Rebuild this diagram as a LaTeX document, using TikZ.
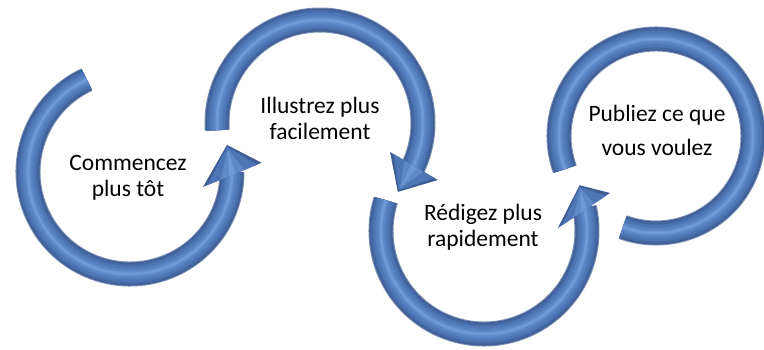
\documentclass[tikz,border=0pt]{standalone}
\usepackage{fontspec}
\setmainfont{Carlito}
\usetikzlibrary{calc}
\definecolor{bedge}{RGB}{62,94,148}
\definecolor{bmid}{RGB}{78,118,182}
\definecolor{blight}{RGB}{94,136,200}
\definecolor{bhi}{RGB}{110,152,214}
\newcommand\tubearc[4]{%
  \foreach \w/\c in {25/bedge!70!white,23/bedge,20/bedge!50!bmid,16/bmid,11/bmid!50!blight,7/blight,3/bhi}{%
    \draw[line width=\w pt, draw=\c] (#1) ++(#3:#2) arc[start angle=#3, end angle=#4, radius=#2];
  }%
}
\newcommand\tubehead[4]{% center, wing1, wing2, tip (polar, relative to center)
  \begin{scope}[shift={(#1)}]
    \coordinate (hw1) at (#2);
    \coordinate (hw2) at (#3);
    \coordinate (ht) at (#4);
    \fill[bedge] (hw1) -- (hw2) -- (ht) -- cycle;
    \fill[bmid] ($(hw1)!0.08!(hw2)$) -- ($(hw1)!0.92!(hw2)$) -- ($(ht)!0.06!($(hw1)!0.5!(hw2)$)$) -- cycle;
    \fill[blight] ($(hw1)!0.3!(hw2)$) -- ($(hw1)!0.7!(hw2)$) -- ($(ht)!0.12!($(hw1)!0.5!(hw2)$)$) -- cycle;
    \fill[bhi] ($(hw1)!0.44!(hw2)$) -- ($(hw1)!0.56!(hw2)$) -- ($(ht)!0.2!($(hw1)!0.5!(hw2)$)$) -- cycle;
  \end{scope}%
}
\begin{document}
\begin{tikzpicture}[x=1pt,y=1pt,
  label/.style={align=center, text=black, font=\fontsize{23.5}{26}\selectfont, inner sep=0pt}]
\useasboundingbox (0,0) rectangle (764,349);
\fill[white] (0,0) rectangle (764,349);
\coordinate (c1) at (130,177);
\coordinate (c2) at (320,226);
\coordinate (c3) at (484,118);
\coordinate (c4) at (656,213);
% shafts
\tubearc{c1}{102}{115}{360}
\tubearc{c2}{103}{184}{-26}
\tubearc{c3}{103}{162.6}{373}
\tubearc{c4}{97}{200}{-110}
% heads
\tubehead{c1}{348.4:74.5}{364:132}{375.6:100.7}
\tubehead{c2}{-22.5:75.8}{-25.8:131}{-41.5:104}
\tubehead{c3}{362.3:74}{376.8:131.6}{385.6:106}
% texts
\node[label] (t1) at (128,171) {Commencez\\plus tôt};
\node[label] (t2) at (320,231) {Illustrez plus\\facilement};
\node[label] (t3) at (483,122) {Rédigez plus\\rapidement};
\node[label, font=\fontsize{23.5}{34}\selectfont] (t4) at (657,219) {Publiez ce que\\vous voulez};
\end{tikzpicture}
\end{document}
